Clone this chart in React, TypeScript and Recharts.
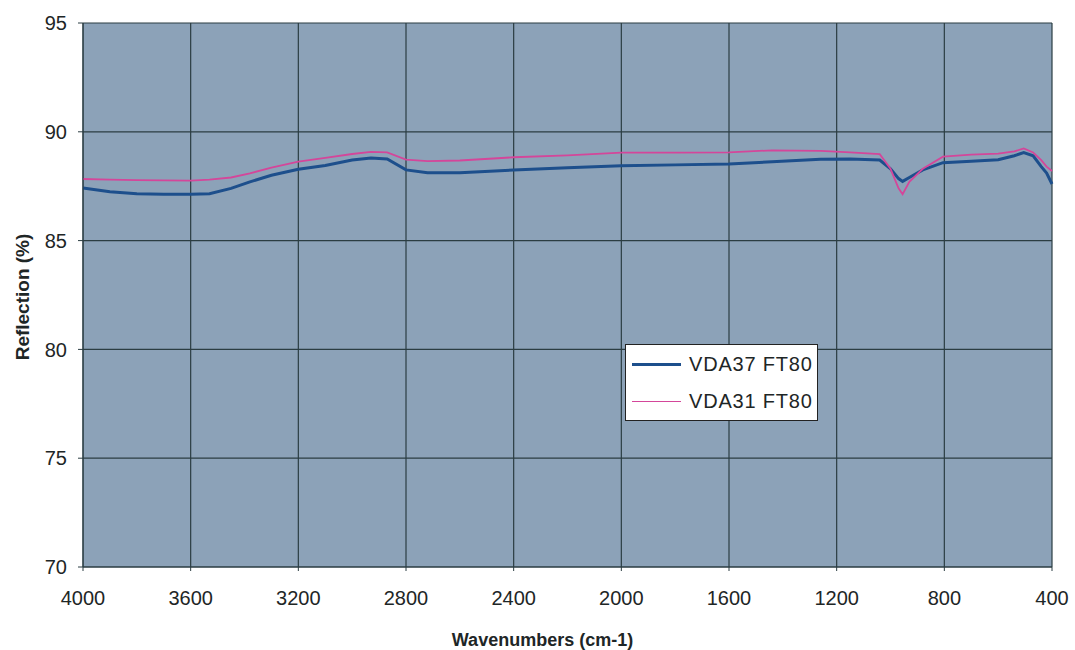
import { LineChart, Line, XAxis, YAxis, CartesianGrid, Label } from 'recharts'

const wavenumbers = [
  4000, 3900, 3800, 3700, 3600, 3530, 3450, 3380, 3300, 3200,
  3100, 3000, 2930, 2870, 2800, 2720, 2600, 2400, 2200, 2000,
  1800, 1600, 1440, 1260, 1150, 1040, 1000, 970, 955, 930,
  880, 805, 700, 600, 540, 505, 470, 440, 420, 400,
]

const vda37 = [
  87.42, 87.25, 87.15, 87.13, 87.13, 87.15, 87.4, 87.7, 88.0, 88.28,
  88.45, 88.7, 88.8, 88.75, 88.25, 88.12, 88.12, 88.24, 88.35, 88.44,
  88.48, 88.52, 88.62, 88.74, 88.75, 88.7, 88.3, 87.85, 87.72, 87.9,
  88.25, 88.58, 88.65, 88.72, 88.9, 89.04, 88.9, 88.4, 88.1, 87.6,
]

const vda31 = [
  87.83, 87.8, 87.78, 87.77, 87.76, 87.8, 87.9, 88.09, 88.35, 88.63,
  88.8, 88.98, 89.08, 89.05, 88.72, 88.65, 88.68, 88.83, 88.92, 89.04,
  89.04, 89.05, 89.15, 89.12, 89.05, 88.97, 88.3, 87.4, 87.13, 87.7,
  88.3, 88.86, 88.95, 89.0, 89.1, 89.24, 89.05, 88.7, 88.4, 88.2,
]

const xTicks = [4000, 3600, 3200, 2800, 2400, 2000, 1600, 1200, 800, 400]
const yTicks = [70, 75, 80, 85, 90, 95]

const SERIES = [
  { key: 'vda37', name: 'VDA37 FT80', color: '#1d4f8c', width: 3 },
  { key: 'vda31', name: 'VDA31 FT80', color: '#d4469a', width: 1.8 },
]

const FONT = '"Liberation Sans", Arial, sans-serif'
const TEXT = '#1e2626'
const GRID = '#2b3d42'

const data = wavenumbers.map((w, i) => ({ w, vda37: vda37[i], vda31: vda31[i] }))

// legend drawn as an overlay so it doesn't eat into the plot area
const LegendBox = () => (
  <div style={{
    position: 'absolute', left: 625, top: 344,
    width: 191, height: 75, background: '#fff', border: '1px solid #222',
    fontFamily: FONT, fontSize: 20, color: TEXT, letterSpacing: 0.8,
  }}>
    {SERIES.map((s, i) => (
      <div key={s.key} style={{ display: 'flex', alignItems: 'center', height: 37, marginTop: i === 0 ? 1 : 0 }}>
        <div style={{ width: 49, height: s.width, background: s.color, marginLeft: 6, marginRight: 8 }} />
        <span>{s.name}</span>
      </div>
    ))}
  </div>
)

export default function App() {
  return (
    <div style={{ position: 'absolute', left: 0, top: 0, width: 1075, height: 650, background: '#fff' }}>
      <LineChart
        width={1075}
        height={650}
        data={data}
        margin={{ top: 23, right: 23, bottom: 0, left: 0 }}
      >
        <CartesianGrid
          fill="#8ca2b8"
          stroke={GRID}
          strokeWidth={1.2}
          horizontalValues={yTicks}
          verticalValues={xTicks}
        />
        <XAxis
          dataKey="w"
          type="number"
          domain={[400, 4000]}
          reversed
          ticks={xTicks}
          interval={0}
          height={83}
          tickSize={4}
          tickMargin={20}
          stroke={GRID}
          tick={{ fill: TEXT, fontSize: 20, fontFamily: FONT }}
        >
          <Label
            value="Wavenumbers (cm-1)"
            position="insideBottom"
            offset={4}
            dx={-25}
            style={{ fill: TEXT, fontSize: 18, fontWeight: 700, fontFamily: FONT }}
          />
        </XAxis>
        <YAxis
          type="number"
          domain={[70, 95]}
          ticks={yTicks}
          interval={0}
          width={83}
          tickSize={5}
          tickMargin={11}
          stroke={GRID}
          tick={{ fill: TEXT, fontSize: 20, fontFamily: FONT }}
        >
          <Label
            content={() => (
              <text
                x={29}
                y={297}
                transform="rotate(-90 29 297)"
                textAnchor="middle"
                style={{ fill: TEXT, fontSize: 19, fontWeight: 700, fontFamily: FONT }}
              >
                Reflection (%)
              </text>
            )}
          />
        </YAxis>
        {SERIES.map((s) => (
          <Line
            key={s.key}
            dataKey={s.key}
            name={s.name}
            type="linear"
            stroke={s.color}
            strokeWidth={s.width}
            dot={false}
            isAnimationActive={false}
          />
        ))}
      </LineChart>
      <LegendBox />
    </div>
  )
}
